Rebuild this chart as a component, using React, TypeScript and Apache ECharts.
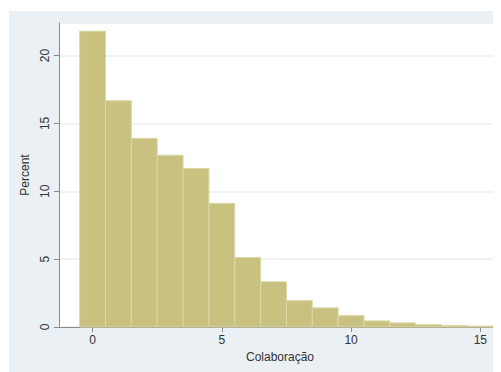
import React, { useEffect, useRef } from "react";
import * as echarts from "echarts";

const binCenters = [0, 1, 2, 3, 4, 5, 6, 7, 8, 9, 10, 11, 12, 13, 14, 15];
const percents = [21.8, 16.67, 13.9, 12.66, 11.68, 9.11, 5.12, 3.33, 1.94, 1.41, 0.84, 0.45, 0.3, 0.17, 0.1, 0.07];
const xTicks = [0, 5, 10, 15];
const xTitle = "Colaboração";
const yTitle = "Percent";

export default function App() {
  const ref = useRef<HTMLDivElement>(null);
  useEffect(() => {
    if (!ref.current) return;
    const chart = echarts.init(ref.current, undefined, { renderer: "svg" });
    const font = "'Liberation Sans', Arial, sans-serif";
    chart.setOption({
      animation: false,
      backgroundColor: "#eaf0f3",
      grid: { left: 50, top: 12, right: 0, bottom: 45, show: true, backgroundColor: "#ffffff", borderWidth: 0 },
      xAxis: {
        type: "value",
        min: -1.3,
        max: 15.8,
        name: xTitle,
        nameLocation: "middle",
        nameGap: 20,
        nameTextStyle: { fontFamily: font, fontSize: 12, color: "#333" },
        axisLine: { show: true, onZero: false, lineStyle: { color: "#8a8a8a", width: 1 } },
        axisTick: { show: true, length: 5, customValues: xTicks, lineStyle: { color: "#8a8a8a" } },
        axisLabel: { customValues: xTicks, fontFamily: font, fontSize: 12, color: "#333", margin: 7 },
        splitLine: { show: false },
      },
      yAxis: {
        type: "value",
        min: 0,
        max: 22.4,
        interval: 5,
        name: yTitle,
        nameLocation: "middle",
        nameGap: 22,
        nameTextStyle: { fontFamily: font, fontSize: 12, color: "#333" },
        axisLine: { show: true, onZero: false, lineStyle: { color: "#8a8a8a", width: 1 } },
        axisTick: { show: true, length: 5, lineStyle: { color: "#8a8a8a" } },
        axisLabel: { rotate: 90, showMaxLabel: false, fontFamily: font, fontSize: 12, color: "#333", margin: 8 },
        splitLine: { show: true, lineStyle: { color: "#e8f0f2", width: 1.5 } },
      },
      series: [
        {
          type: "custom",
          data: binCenters.map((c, i) => [c, percents[i]]),
          renderItem: (params: any, api: any) => {
            const x = api.value(0);
            const y = api.value(1);
            const p0 = api.coord([x - 0.5, y]);
            const p1 = api.coord([x + 0.5, 0]);
            return {
              type: "rect",
              shape: { x: p0[0], y: p0[1], width: p1[0] - p0[0], height: p1[1] - p0[1] },
              style: { fill: "#c9c17f", stroke: "#dcd8a6", lineWidth: 1 },
            };
          },
        },
      ],
    });
    return () => chart.dispose();
  }, []);
  return <div ref={ref} style={{ width: 492, height: 361, marginTop: 3, marginLeft: 1 }} />;
}
